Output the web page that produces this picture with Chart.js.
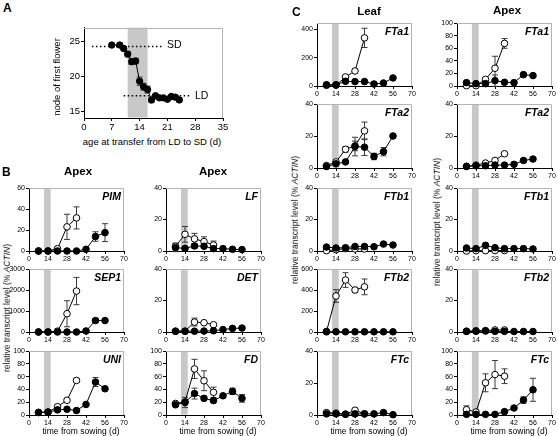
<!DOCTYPE html>
<html><head><meta charset="utf-8">
<script src="https://cdn.jsdelivr.net/npm/chart.js@4/dist/chart.umd.min.js"></script>
<style>
html,body{margin:0;padding:0;background:#fff;}
body{width:558px;height:436px;overflow:hidden;position:relative;font-family:"Liberation Sans",Arial,sans-serif;color:#000;}
canvas{position:absolute;}
.t{position:absolute;white-space:nowrap;line-height:1;}
.rot{position:absolute;white-space:nowrap;line-height:1;transform:translate(-50%,-50%) rotate(-90deg);}
</style></head><body>
<script>
// ---------- DATA ----------
const days = [7,14,21,28,35,42,49,56];
const daysOpen = [7,14,21,28,35];
const xTicks = [0,14,28,42,56,70];
const shadeDays = [11,16];

// Panel A
const ageTransfer = [7,9,10,11,12,13,14,15,16,17,18,19,20,21,22,23,24];
const nodeFirstFlower = [24.5,24.5,24.0,23.2,22.1,22.2,19.3,18.5,18.1,16.6,17.2,16.9,16.9,16.7,17.1,17.0,16.6];
const nodeErr = [0.2,0.3,0.3,0.4,0.4,0.4,0.6,0.5,0.5,0.4,0.2,0.2,0.2,0.2,0.2,0.2,0.3];
const sdLineX = [2,20], sdNode = 24.3;
const ldLineX = [10,27], ldNode = 17.2;
const aXTicks = [0,7,14,21,28,35];
const aYTicks = [15,20,25];

// Panel B (apex)
const pimFilled = [0,0,0,0,0,1.6,13.8,17.5];
const pimFilledErr = [0,0,0,0,0,0.5,4.5,8.5];
const pimOpen = [0,0,2.2,23,31.5];
const pimOpenErr = [0,0,0.8,12,10.5];
const pimTicks = [0,20,40,60];

const sep1Filled = [0,0,0,0,0,50,545,545];
const sep1FilledErr = [0,0,0,0,0,20,60,60];
const sep1Open = [0,0,40,870,1950];
const sep1OpenErr = [0,0,20,620,650];
const sep1Ticks = [0,1000,2000,3000];

const uniFilled = [4,4.5,8,9,7,16.5,51.5,41];
const uniFilledErr = [1,1,1.5,1.5,1,1.5,7,3];
const uniOpen = [4,4.5,13,23,54];
const uniOpenErr = [1,1,1.5,2,3];
const uniTicks = [0,20,40,60,80,100];

const lfFilled = [2.1,1.7,3.2,3,1.5,1.5,1.1,0.9];
const lfFilledErr = [2.5,0.5,1.5,1,0.5,0.5,0.3,0.3];
const lfOpen = [3,10.6,7.7,6,3.8];
const lfOpenErr = [2,5,3.5,3,2.5];
const lfTicks = [0,20,40];

const detFilled = [0.5,0.5,0.5,0.6,0.8,1.5,2.3,2.5];
const detFilledErr = [0.2,0.2,0.2,0.2,0.2,0.3,0.3,0.3];
const detOpen = [0.5,0.5,6.3,5.9,4.6];
const detOpenErr = [0.2,0.2,2.5,0.8,0.6];
const detTicks = [0,20,40];

const fdFilled = [16,19.6,33.5,26,22.5,30,37,26];
const fdFilledErr = [2.5,8,8.5,3.5,2.5,2,5,6];
const fdOpen = [18,20.5,72,53.5,35.5];
const fdOpenErr = [2,3,15,15.5,8];
const fdTicks = [0,20,40,60,80,100];

// Panel C, leaf
const leafFTa1Filled = [9,9,33,31,31,14,21,57];
const leafFTa1FilledErr = [3,3,8,5,5,3,4,5];
const leafFTa1Open = [5,5,64,106,340];
const leafFTa1OpenErr = [2,2,10,15,68];
const leafFTa1Ticks = [0,200,400];

const leafFTa2Filled = [0.9,2.6,3.8,13.4,13,7.2,10.2,20];
const leafFTa2FilledErr = [0.3,0.5,0.5,5.8,5.2,2,2.6,0.8];
const leafFTa2Open = [1.5,3.8,11.7,13.8,23.2];
const leafFTa2OpenErr = [0.5,1,1.7,3,5.5];
const leafFTa2Ticks = [0,20,40];

const leafFTb1Filled = [2.5,1.9,2.1,2.9,2.9,2.7,4.4,3.8];
const leafFTb1FilledErr = [0.3,0.3,0.3,0.3,0.3,0.3,0.4,0.4];
const leafFTb1Open = [0.2,0.8,1.5,1.3,1.3];
const leafFTb1OpenErr = [0.1,0.2,0.3,0.3,0.3];
const leafFTb1Ticks = [0,20,40];

const leafFTb2Filled = [2,2,2,2,2,2,2,2];
const leafFTb2FilledErr = [0,0,0,0,0,0,0,0];
const leafFTb2Open = [5,343,495,400,430];
const leafFTb2OpenErr = [2,60,70,25,75];
const leafFTb2Ticks = [0,200,400,600];

const leafFTcFilled = [0.7,0.7,0.5,0.7,0.7,0.7,1.5,0.2];
const leafFTcFilledErr = [0.2,0.2,0.2,0.2,0.2,0.2,0.3,0.1];
const leafFTcOpen = [1.5,1.2,0.5,3,0.7];
const leafFTcOpenErr = [0.3,0.3,0.2,0.5,0.2];
const leafFTcTicks = [0,20,40];

// Panel C, apex
const apexFTa1Filled = [5.3,3.7,3.7,8.5,5.9,5.3,18,16.5];
const apexFTa1FilledErr = [1,1,1,9,1,1,2,1];
const apexFTa1Open = [0.5,0.5,10.6,28.2,67.6];
const apexFTa1OpenErr = [0.3,0.3,2,19,7.7];
const apexFTa1Ticks = [0,20,40,60,80,100];

const apexFTa2Filled = [1,1.4,1.4,1.8,1.8,2.3,4.7,5.6];
const apexFTa2FilledErr = [0.2,0.2,0.2,0.3,0.3,0.3,0.4,0.4];
const apexFTa2Open = [1,1.8,3.1,4.7,8.9];
const apexFTa2OpenErr = [0.2,0.3,0.3,0.4,0.5];
const apexFTa2Ticks = [0,20,40];

const apexFTb1Filled = [1.9,1.5,3.6,2.1,1.5,1.5,1.5,1.3];
const apexFTb1FilledErr = [0.3,0.3,0.4,0.3,0.3,0.3,0.3,0.3];
const apexFTb1Open = [0,0.2,0.2,0.3,0.3];
const apexFTb1OpenErr = [0,0,0,0,0];
const apexFTb1Ticks = [0,20,40];

const apexFTb2Filled = [0.4,0.4,0.6,0.4,0.4,0.3,0.3,0.3];
const apexFTb2FilledErr = [0,0,0,0,0,0,0,0];
const apexFTb2Open = [0.5,0.8,0.9,1.3,1.3];
const apexFTb2OpenErr = [0,0,0,0,0];
const apexFTb2Ticks = [0,20,40];

const apexFTcFilled = [1,1,1,1,5.2,10.9,23.3,39.4];
const apexFTcFilledErr = [0.5,0.5,0.5,0.5,1,1.5,5,18];
const apexFTcOpen = [8.3,4.7,50.3,63.2,60.6];
const apexFTcOpenErr = [6,3,14,22,11.5];
const apexFTcTicks = [0,20,40,60,80,100];

// ---------- RENDERING ----------
const FF = '"Liberation Sans", Arial, sans-serif';

const deco = {
  id: 'deco',
  beforeDatasetsDraw(chart, args, o) {
    const {ctx, chartArea: a, scales: {x, y}} = chart;
    ctx.save();
    if (o.shade) {
      const x0 = x.getPixelForValue(o.shade[0]), x1 = x.getPixelForValue(o.shade[1]);
      ctx.fillStyle = '#c8c8c8';
      ctx.fillRect(x0, a.top, x1 - x0, a.bottom - a.top - 0.5);
    }
    ctx.strokeStyle = '#b4b4b4';
    ctx.lineWidth = 1;
    ctx.beginPath();
    const tY = Math.round(a.top) + 0.5, rX = Math.round(a.right) - 0.5;
    ctx.moveTo(a.left, tY); ctx.lineTo(rX, tY); ctx.lineTo(rX, a.bottom);
    ctx.stroke();
    chart.data.datasets.forEach(ds => {
      if (!ds.err) return;
      ctx.strokeStyle = '#3a3a3a';
      ds.data.forEach((d, j) => {
        const e = ds.err[j];
        if (!e) return;
        const px = x.getPixelForValue(d.x);
        const yt = y.getPixelForValue(d.y + e), yb = y.getPixelForValue(d.y - e);
        ctx.beginPath();
        ctx.moveTo(px, yt); ctx.lineTo(px, yb);
        ctx.moveTo(px - 3, yt); ctx.lineTo(px + 3, yt);
        ctx.moveTo(px - 3, yb); ctx.lineTo(px + 3, yb);
        ctx.stroke();
      });
    });
    ctx.restore();
  }
};

function pts(xs, ys) { return xs.map((v, i) => ({x: v, y: ys[i]})); }

function series(xs, ys, err, open) {
  return {
    data: pts(xs, ys), err: err,
    borderColor: '#000', borderWidth: 1, tension: 0, fill: false, clip: false,
    pointRadius: 3.3, pointBorderWidth: 1, pointBorderColor: '#000',
    pointBackgroundColor: open ? '#fff' : '#000'
  };
}

function makeChart(p) {
  const padT = 6, padR = 10, yW = 30, xH = p.xH || 14;
  const fs = p.fontSize || 7;
  const c = document.createElement('canvas');
  const W = p.width + yW + padR, H = p.height + padT + xH;
  c.width = W; c.height = H;
  c.style.left = (p.left - yW) + 'px';
  c.style.top = (p.top - padT) + 'px';
  c.style.width = W + 'px'; c.style.height = H + 'px';
  document.body.appendChild(c);
  const axisCommon = {
    type: 'linear',
    grid: {display: true, drawOnChartArea: false, drawTicks: true, tickLength: 3, color: '#000', lineWidth: 1},
    border: {display: true, color: '#000', width: 1},
    ticks: {font: {size: fs, family: FF}, color: '#000', padding: 1, maxRotation: 0, autoSkip: false, callback: v => String(v)}
  };
  new Chart(c, {
    type: 'line',
    data: {datasets: p.datasets},
    options: {
      responsive: false, animation: false, devicePixelRatio: 1,
      layout: {padding: {top: padT, right: padR, left: 0, bottom: 0}},
      plugins: {legend: {display: false}, tooltip: {enabled: false}, deco: {shade: p.shade}},
      scales: {
        x: Object.assign({}, axisCommon, {min: p.xMin, max: p.xMax,
          afterFit: s => { s.height = xH; },
          afterBuildTicks: s => { s.ticks = p.xTicks.map(v => ({value: v})); }}),
        y: Object.assign({}, axisCommon, {min: p.yMin, max: p.yMax,
          afterFit: s => { s.width = yW; },
          afterBuildTicks: s => { s.ticks = p.yTicks.map(v => ({value: v})); }})
      }
    },
    plugins: [deco]
  });
}

function txt(html, x, baseline, size, opts) {
  opts = opts || {};
  const d = document.createElement('div');
  d.className = 't';
  d.innerHTML = html;
  d.style.fontSize = size + 'px';
  d.style.top = (baseline - 0.85 * size) + 'px';
  d.style.left = x + 'px';
  if (opts.bold) d.style.fontWeight = 'bold';
  if (opts.italic) d.style.fontStyle = 'italic';
  if (opts.align === 'center') d.style.transform = 'translateX(-50%)';
  if (opts.align === 'right') d.style.transform = 'translateX(-100%)';
  document.body.appendChild(d);
}
function vtxt(html, cx, cy, size) {
  const d = document.createElement('div');
  d.className = 'rot';
  d.innerHTML = html;
  d.style.fontSize = size + 'px';
  d.style.left = cx + 'px'; d.style.top = cy + 'px';
  document.body.appendChild(d);
}

// Panel A
makeChart({
  left: 84, top: 27, width: 139, height: 91, fontSize: 9.5, xH: 16,
  xMin: 0, xMax: 35, yMin: 14, yMax: 27, xTicks: aXTicks, yTicks: aYTicks, shade: shadeDays,
  datasets: [
    Object.assign(series(ageTransfer, nodeFirstFlower, nodeErr, false), {pointRadius: 3.2}),
    {data: pts(sdLineX, [sdNode, sdNode]), borderColor: '#000', borderWidth: 1.5, borderDash: [1.5, 2.5], pointRadius: 0, fill: false},
    {data: pts(ldLineX, [ldNode, ldNode]), borderColor: '#000', borderWidth: 1.5, borderDash: [1.5, 2.5], pointRadius: 0, fill: false}
  ]
});

const COL = {b1: 29, b2: 166, c1: 317, c2: 457};
const ROW = {r1: [23, 86], r2: [104, 168], r3: [188, 251], r4: [269, 332], r5: [351, 415]};

const panels = [
  ['PIM', 'b1', 'r3', 60, pimTicks, pimFilled, pimFilledErr, pimOpen, pimOpenErr],
  ['SEP1', 'b1', 'r4', 3000, sep1Ticks, sep1Filled, sep1FilledErr, sep1Open, sep1OpenErr],
  ['UNI', 'b1', 'r5', 100, uniTicks, uniFilled, uniFilledErr, uniOpen, uniOpenErr],
  ['LF', 'b2', 'r3', 40, lfTicks, lfFilled, lfFilledErr, lfOpen, lfOpenErr],
  ['DET', 'b2', 'r4', 40, detTicks, detFilled, detFilledErr, detOpen, detOpenErr],
  ['FD', 'b2', 'r5', 100, fdTicks, fdFilled, fdFilledErr, fdOpen, fdOpenErr],
  ['FTa1', 'c1', 'r1', 445, leafFTa1Ticks, leafFTa1Filled, leafFTa1FilledErr, leafFTa1Open, leafFTa1OpenErr],
  ['FTa2', 'c1', 'r2', 40, leafFTa2Ticks, leafFTa2Filled, leafFTa2FilledErr, leafFTa2Open, leafFTa2OpenErr],
  ['FTb1', 'c1', 'r3', 40, leafFTb1Ticks, leafFTb1Filled, leafFTb1FilledErr, leafFTb1Open, leafFTb1OpenErr],
  ['FTb2', 'c1', 'r4', 600, leafFTb2Ticks, leafFTb2Filled, leafFTb2FilledErr, leafFTb2Open, leafFTb2OpenErr],
  ['FTc', 'c1', 'r5', 40, leafFTcTicks, leafFTcFilled, leafFTcFilledErr, leafFTcOpen, leafFTcOpenErr],
  ['FTa1', 'c2', 'r1', 100, apexFTa1Ticks, apexFTa1Filled, apexFTa1FilledErr, apexFTa1Open, apexFTa1OpenErr],
  ['FTa2', 'c2', 'r2', 40, apexFTa2Ticks, apexFTa2Filled, apexFTa2FilledErr, apexFTa2Open, apexFTa2OpenErr],
  ['FTb1', 'c2', 'r3', 40, apexFTb1Ticks, apexFTb1Filled, apexFTb1FilledErr, apexFTb1Open, apexFTb1OpenErr],
  ['FTb2', 'c2', 'r4', 40, apexFTb2Ticks, apexFTb2Filled, apexFTb2FilledErr, apexFTb2Open, apexFTb2OpenErr],
  ['FTc', 'c2', 'r5', 100, apexFTcTicks, apexFTcFilled, apexFTcFilledErr, apexFTcOpen, apexFTcOpenErr]
];

panels.forEach(pn => {
  const [name, col, row, ymax, yt, f, fe, o, oe] = pn;
  const left = COL[col], top = ROW[row][0], h = ROW[row][1] - ROW[row][0];
  makeChart({
    left: left, top: top, width: 95, height: h,
    xMin: 0, xMax: 70, yMin: 0, yMax: ymax, xTicks: xTicks, yTicks: yt, shade: shadeDays,
    datasets: [series(days, f, fe, false), series(daysOpen, o, oe, true)]
  });
  txt(name, left + 92, top + 12, 10.5, {bold: true, italic: true, align: 'right'});
  if (row === 'r5') txt('time from sowing (d)', left + 52, 434, 8.5, {align: 'center'});
});

// Panel A texts
txt('A', 3, 12, 12, {bold: true});
vtxt('node of first flower', 57, 77, 9.5);
txt('age at transfer from LD to SD (d)', 152, 145.5, 9.5, {align: 'center'});
txt('SD', 167, 47.5, 10.5);
txt('LD', 195, 99, 10.5);

// Headings
txt('B', 2, 176, 12, {bold: true});
txt('C', 292, 16.5, 12, {bold: true});
txt('Apex', 78, 176, 11.5, {bold: true, align: 'center'});
txt('Apex', 213, 176, 11.5, {bold: true, align: 'center'});
txt('Leaf', 369, 16, 11.5, {bold: true, align: 'center'});
txt('Apex', 507, 15, 11.5, {bold: true, align: 'center'});

// Y titles
vtxt('relative transcript level (% <i>ACTIN</i>)', 7, 308, 8.5);
vtxt('relative transcript level (% <i>ACTIN</i>)', 295, 220, 8.5);
vtxt('relative transcript level (% <i>ACTIN</i>)', 437, 222, 8.5);
</script>
</body></html>
